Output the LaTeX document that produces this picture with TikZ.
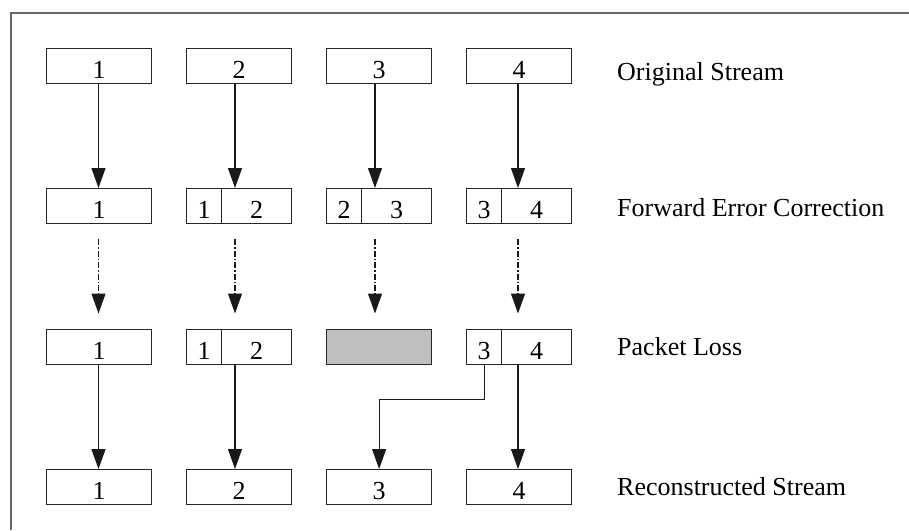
\documentclass[tikz,border=0pt]{standalone}
\usepackage{fontspec}
\setmainfont{Liberation Serif}
\usetikzlibrary{arrows.meta}
\begin{document}
\begin{tikzpicture}[x=1pt,y=-1pt,
  cell/.style={draw=black!85,line width=1.2pt,rectangle,inner sep=0pt,minimum height=35pt,text height=25pt,text depth=0pt,anchor=north west,font=\fontsize{26}{30}\selectfont},
  full/.style={cell,minimum width=105pt},
  lpart/.style={cell,minimum width=35pt},
  rpart/.style={cell,minimum width=70pt},
  lost/.style={full,fill=black!25},
  lab/.style={anchor=base west,inner sep=0pt,font=\fontsize{26}{30}\selectfont},
  arr/.style={draw=black!90,line width=1.2pt,-{Triangle[width=14pt,length=20pt]}},
  darr/.style={arr,dash pattern=on 6pt off 2pt on 1.5pt off 2pt},
  frame/.style={draw=black!60,line width=1.5pt}
]
\useasboundingbox (0,0) rectangle (909,530);
\draw[frame] (11,530) -- (11,13) -- (909,13);

% column arrow positions
\coordinate (c1) at (98.5,0);
\coordinate (c2) at (235,0);
\coordinate (c3) at (375,0);
\coordinate (c4) at (518,0);

% row 1
\node[full] (o1) at (46,48) {1};
\node[full] (o2) at (186,48) {2};
\node[full] (o3) at (326,48) {3};
\node[full] (o4) at (466,48) {4};
% row 2
\node[full] (f1) at (46,188) {1};
\node[lpart] (f2l) at (186,188) {1};
\node[rpart] (f2r) at (221,188) {2};
\node[lpart] (f3l) at (326,188) {2};
\node[rpart] (f3r) at (361,188) {3};
\node[lpart] (f4l) at (466,188) {3};
\node[rpart] (f4r) at (501,188) {4};
% row 3
\node[full] (p1) at (46,328.5) {1};
\node[lpart] (p2l) at (186,328.5) {1};
\node[rpart] (p2r) at (221,328.5) {2};
\node[lost] (p3) at (326,328.5) {};
\node[lpart] (p4l) at (466,328.5) {3};
\node[rpart] (p4r) at (501,328.5) {4};
% row 4
\node[full] (r1) at (46,469) {1};
\node[full] (r2) at (186,469) {2};
\node[full] (r3) at (326,469) {3};
\node[full] (r4) at (466,469) {4};

% labels
\node[lab] (l1) at (617,80) {Original Stream};
\node[lab] (l2) at (617,216) {Forward Error Correction};
\node[lab] (l3) at (617,355) {Packet Loss};
\node[lab] (l4) at (617,495) {Reconstructed Stream};

% row 1 -> row 2
\draw[arr] (c1 |- o1.south) -- (c1 |- f1.north);
\draw[arr] (c2 |- o2.south) -- (c2 |- f2r.north);
\draw[arr] (c3 |- o3.south) -- (c3 |- f3r.north);
\draw[arr] (c4 |- o4.south) -- (c4 |- f4r.north);
% row 2 -> row 3 (transmission)
\draw[darr] ([yshift=-15pt]c1 |- f1.south) -- ([yshift=15pt]c1 |- p1.north);
\draw[darr] ([yshift=-15pt]c2 |- f2r.south) -- ([yshift=15pt]c2 |- p2r.north);
\draw[darr] ([yshift=-15pt]c3 |- f3r.south) -- ([yshift=15pt]c3 |- p3.north);
\draw[darr] ([yshift=-15pt]c4 |- f4r.south) -- ([yshift=15pt]c4 |- p4r.north);
% row 3 -> row 4
\draw[arr] (c1 |- p1.south) -- (c1 |- r1.north);
\draw[arr] (c2 |- p2r.south) -- (c2 |- r2.north);
\draw[arr] (p4l.south) -- ++(0,35) -| (r3.north);
\draw[arr] (c4 |- p4r.south) -- (c4 |- r4.north);
\end{tikzpicture}
\end{document}
